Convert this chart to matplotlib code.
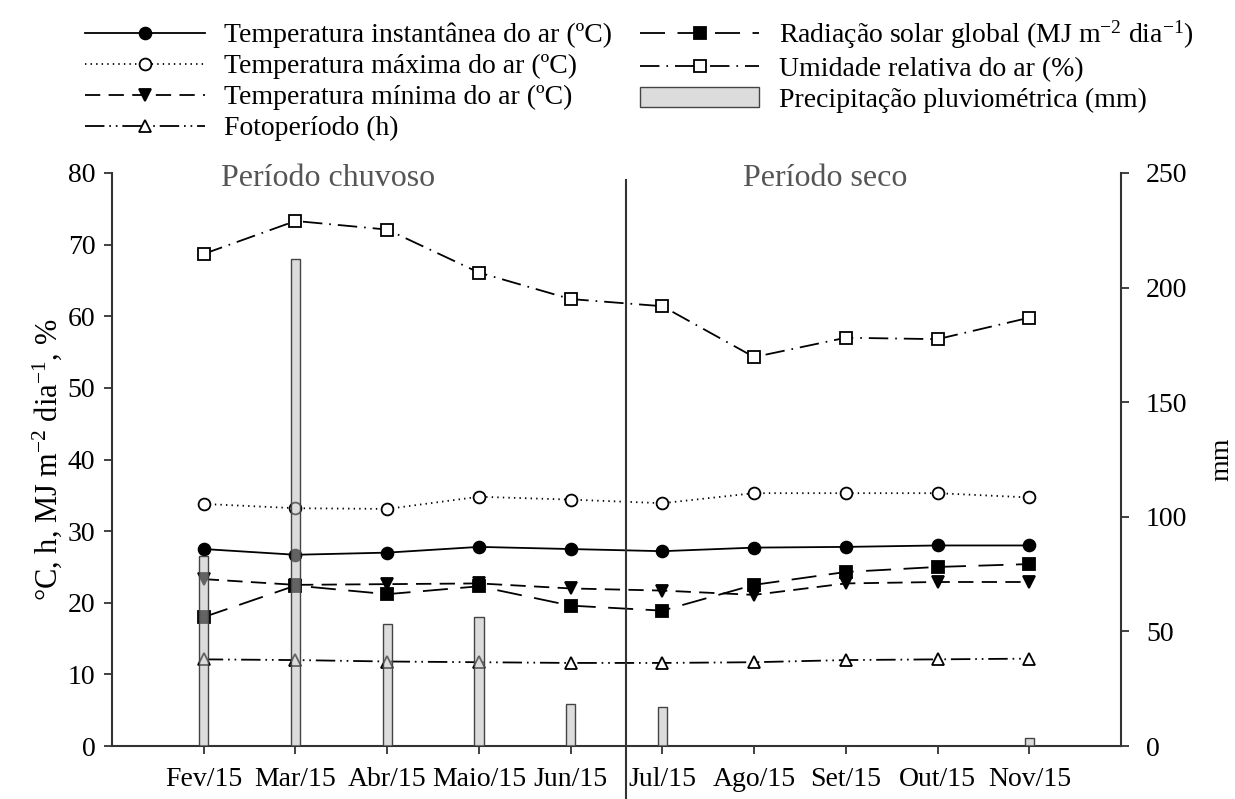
import numpy as np
import matplotlib.pyplot as plt

plt.rcParams['font.family'] = ['Liberation Serif', 'DejaVu Serif']
plt.rcParams['mathtext.fontset'] = 'custom'
plt.rcParams['mathtext.rm'] = 'Liberation Serif'
plt.rcParams['mathtext.it'] = 'Liberation Serif:italic'
plt.rcParams['lines.scale_dashes'] = False

# monthly means, Feb-Nov 2015
meses = ['Fev/15', 'Mar/15', 'Abr/15', 'Maio/15', 'Jun/15',
         'Jul/15', 'Ago/15', 'Set/15', 'Out/15', 'Nov/15']
t_inst = [27.5, 26.7, 27.0, 27.8, 27.5, 27.2, 27.7, 27.8, 28.0, 28.0]
t_max = [33.8, 33.2, 33.1, 34.8, 34.4, 33.9, 35.3, 35.3, 35.3, 34.7]
t_min = [23.3, 22.5, 22.6, 22.7, 22.0, 21.7, 21.1, 22.7, 22.9, 22.9]
fotoperiodo = [12.1, 12.0, 11.8, 11.7, 11.6, 11.6, 11.7, 12.0, 12.1, 12.2]
radiacao = [18.0, 22.4, 21.2, 22.3, 19.6, 18.9, 22.5, 24.3, 25.0, 25.4]
umidade = [68.7, 73.3, 72.1, 66.1, 62.4, 61.4, 54.3, 57.0, 56.8, 59.8]
precip = [82.9, 212.5, 53.2, 56.4, 18.3, 17.0, 0, 0, 0, 3.5]

x = np.arange(1, len(meses) + 1)

fig = plt.figure(figsize=(12.35, 7.99), dpi=100)
ax = fig.add_axes([0.0907, 0.0663, 0.817, 0.7172])
ax2 = ax.twinx()

lw = 1.3
mk = dict(markeredgecolor='black', markeredgewidth=1.3)
l1, = ax.plot(x, t_inst, color='black', lw=lw, ls='-', marker='o', ms=8.5,
              markerfacecolor='black', **mk)
l2, = ax.plot(x, t_max, color='black', lw=lw, ls=(0, (1, 3)), marker='o', ms=8.5,
              markerfacecolor='white', **mk)
l3, = ax.plot(x, t_min, color='black', lw=lw, ls=(0, (11, 6)), marker='v', ms=9,
              markerfacecolor='black', **mk)
l4, = ax.plot(x, fotoperiodo, color='black', lw=lw,
              ls=(0, (14, 3.5, 1.2, 3.5, 1.2, 3.5)), marker='^', ms=9,
              markerfacecolor='white', **mk)
l5, = ax.plot(x, radiacao, color='black', lw=lw, ls=(0, (18, 9)), marker='s', ms=8,
              markerfacecolor='black', **mk)
l6, = ax.plot(x, umidade, color='black', lw=lw, ls=(0, (14, 5, 1.2, 5)), marker='s',
              ms=8, markerfacecolor='white', **mk)

bars = ax2.bar(x, precip, width=0.1, color=(0.74, 0.74, 0.74, 0.53),
               edgecolor='#444444', linewidth=1.0)

ax.set_xlim(0, 11)
ax.set_ylim(0, 80)
ax.set_yticks(np.arange(0, 81, 10))
ax.set_xticks(x)
ax.set_xticklabels(meses)
ax2.set_ylim(0, 250)
ax2.set_yticks(np.arange(0, 251, 50))

for a in (ax, ax2):
    a.tick_params(axis='both', direction='out', length=6, width=1.3,
                  labelsize=20, pad=6, color='#333333')
    for s in a.spines.values():
        s.set_linewidth(1.5)
        s.set_color('#333333')
ax.tick_params(axis='x', pad=9)
ax2.tick_params(axis='y', pad=12)
ax.spines['top'].set_visible(False)
ax.spines['right'].set_visible(False)
for side in ('top', 'left', 'bottom'):
    ax2.spines[side].set_visible(False)

ax.set_ylabel('°C, h, MJ m$^{-2}$ dia$^{-1}$, %', fontsize=22)
ax.yaxis.set_label_coords(-0.048, 0.5)
ax2.set_ylabel('mm', fontsize=20)
ax2.yaxis.set_label_coords(1.088, 0.5)

# divider between rainy and dry seasons
ax.plot([5.6, 5.6], [-7.6, 79], color='#333333', lw=1.5, clip_on=False)
ax.text(2.36, 79.2, 'Período chuvoso', fontsize=23, color='#555555',
        ha='center', va='center')
ax.text(7.78, 79.2, 'Período seco', fontsize=23, color='#555555',
        ha='center', va='center')

handles = [l1, l2, l3, l4, l5, l6, bars]
labels = ['Temperatura instantânea do ar (ºC)',
          'Temperatura máxima do ar (ºC)',
          'Temperatura mínima do ar (ºC)',
          'Fotoperíodo (h)',
          'Radiação solar global (MJ m$^{-2}$ dia$^{-1}$)',
          'Umidade relativa do ar (%)',
          'Precipitação pluviométrica (mm)']
fig.legend(handles, labels, ncol=2, loc='upper left',
           bbox_to_anchor=(0.069, 0.977), frameon=False, fontsize=20,
           handlelength=4.3, handletextpad=0.7, columnspacing=1.0,
           labelspacing=0.2, borderpad=0, borderaxespad=0, numpoints=1)

fig.savefig('out.png', dpi=100)
